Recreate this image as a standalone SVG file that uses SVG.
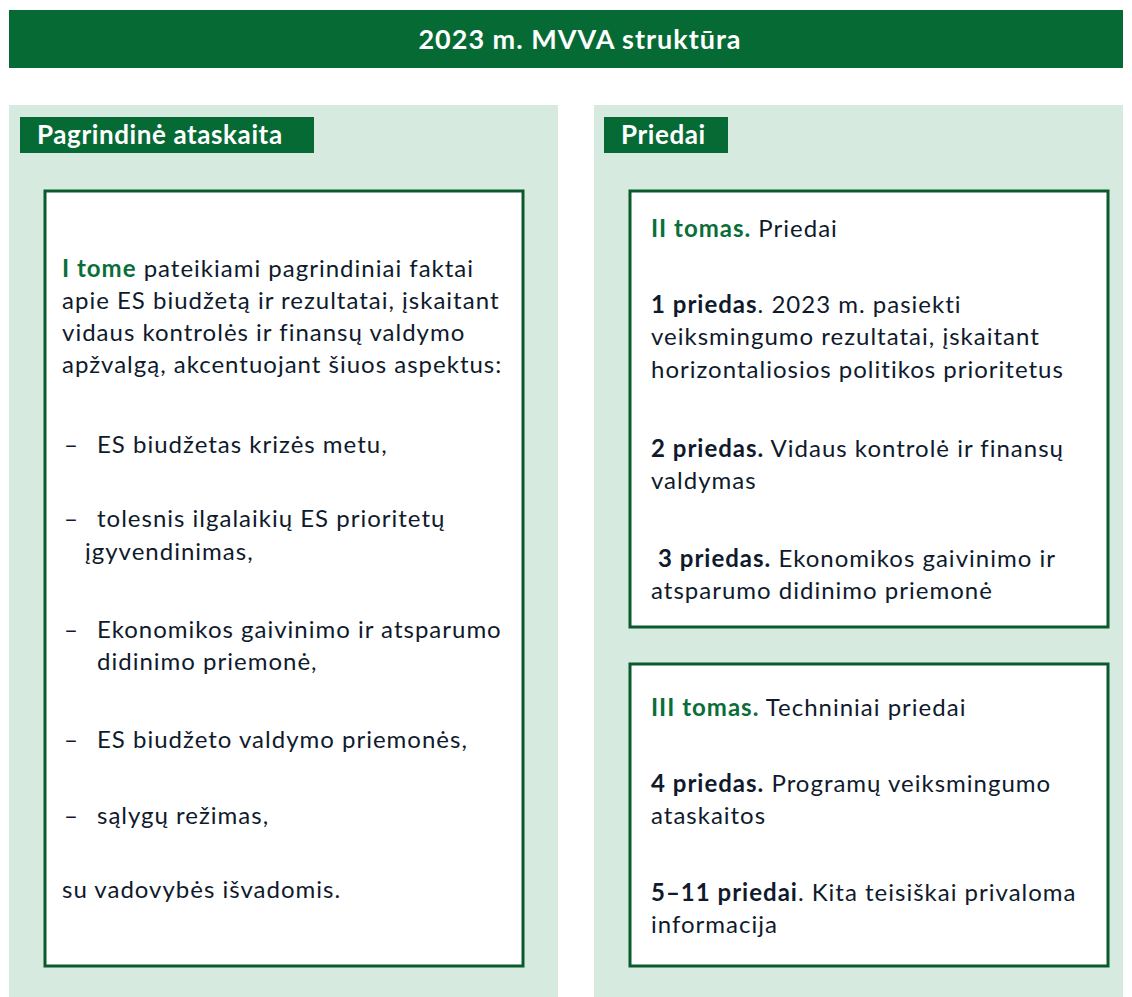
<svg xmlns="http://www.w3.org/2000/svg" width="1132" height="997" viewBox="0 0 1132 997">
<style>
text{font-family:Lato,"Open Sans","Liberation Sans",sans-serif;font-size:24px;letter-spacing:1px;fill:#0f1a2c}
.b{font-weight:bold}
.g{fill:#0a6e3a;font-weight:bold}
.w{fill:#ffffff;font-weight:bold}
.t{font-size:27px;letter-spacing:1px}
.l{font-size:26px;letter-spacing:0.6px}
.panel{fill:#d6eadf}
.label{fill:#066a35}
.box{fill:#ffffff;stroke:#0b5a2e;stroke-width:3}
</style>
<rect width="1132" height="997" fill="#ffffff"/>
<g id="title">
<rect x="9" y="10" width="1114" height="58" fill="#066a35"/>
<text x="580" y="49" text-anchor="middle" class="w t">2023 m. MVVA struktūra</text>
</g>
<g id="left-panel">
<rect class="panel" x="9" y="105" width="549" height="892"/>
<rect class="label" x="20" y="117" width="294" height="36"/>
<text x="37" y="144" class="w l">Pagrindinė ataskaita</text>
</g>
<g id="right-panel">
<rect class="panel" x="594" y="105" width="529" height="892"/>
<rect class="label" x="604" y="117" width="124" height="36"/>
<text x="621" y="144" class="w l">Priedai</text>
</g>
<g id="main-report">
<rect class="box" x="45" y="191" width="478" height="775"/>
<text x="62" y="277"><tspan class="g">I tome</tspan> pateikiami pagrindiniai faktai</text>
<text x="62" y="309">apie ES biudžetą ir rezultatai, įskaitant</text>
<text x="62" y="341">vidaus kontrolės ir finansų valdymo</text>
<text x="62" y="373">apžvalgą, akcentuojant šiuos aspektus:</text>
<text x="64" y="453">–</text><text x="97" y="453">ES biudžetas krizės metu,</text>
<text x="64" y="527">–</text><text x="97" y="527">tolesnis ilgalaikių ES prioritetų</text>
<text x="85" y="560">įgyvendinimas,</text>
<text x="64" y="638">–</text><text x="97" y="638">Ekonomikos gaivinimo ir atsparumo</text>
<text x="97" y="670">didinimo priemonė,</text>
<text x="64" y="748">–</text><text x="97" y="748">ES biudžeto valdymo priemonės,</text>
<text x="64" y="824">–</text><text x="97" y="824">sąlygų režimas,</text>
<text x="62" y="898">su vadovybės išvadomis.</text>
</g>
<g id="volume-2">
<rect class="box" x="630" y="191" width="478" height="436"/>
<text x="651" y="237"><tspan class="g">II tomas.</tspan> Priedai</text>
<text x="651" y="313"><tspan class="b">1 priedas</tspan>. 2023 m. pasiekti</text>
<text x="651" y="345">veiksmingumo rezultatai, įskaitant</text>
<text x="651" y="378">horizontaliosios politikos prioritetus</text>
<text x="651" y="457"><tspan class="b">2 priedas.</tspan> Vidaus kontrolė ir finansų</text>
<text x="651" y="489">valdymas</text>
<text x="658" y="567"><tspan class="b">3 priedas.</tspan> Ekonomikos gaivinimo ir</text>
<text x="651" y="599">atsparumo didinimo priemonė</text>
</g>
<g id="volume-3">
<rect class="box" x="630" y="664" width="478" height="302"/>
<text x="651" y="716"><tspan class="g">III tomas.</tspan> Techniniai priedai</text>
<text x="651" y="792"><tspan class="b">4 priedas.</tspan> Programų veiksmingumo</text>
<text x="651" y="824">ataskaitos</text>
<text x="651" y="901"><tspan class="b">5–11 priedai</tspan>. Kita teisiškai privaloma</text>
<text x="651" y="933">informacija</text>
</g>
<g id="connectors"></g>
</svg>
